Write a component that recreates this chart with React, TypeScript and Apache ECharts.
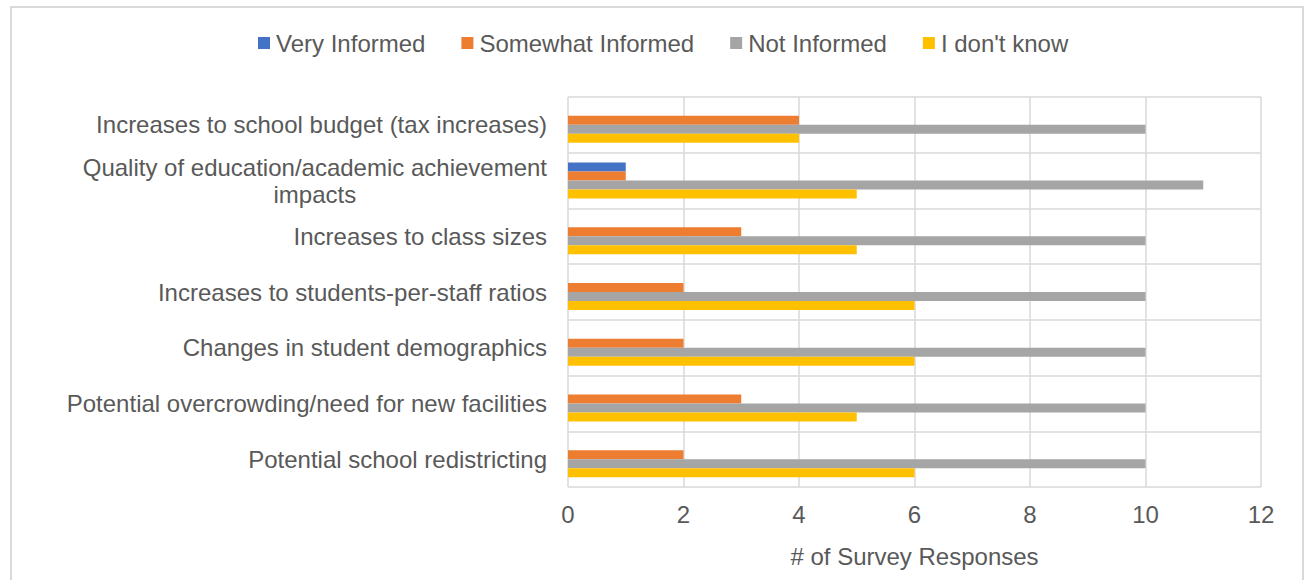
import React, { useEffect, useRef } from "react";
import * as echarts from "echarts";

const categories = [
  "Increases to school budget (tax increases)",
  "Quality of education/academic achievement\nimpacts",
  "Increases to class sizes",
  "Increases to students-per-staff ratios",
  "Changes in student demographics",
  "Potential overcrowding/need for new facilities",
  "Potential school redistricting",
];

const seriesNames = ["Very Informed", "Somewhat Informed", "Not Informed", "I don't know"];
const veryInformed = [0, 1, 0, 0, 0, 0, 0];
const somewhatInformed = [4, 1, 3, 2, 2, 3, 2];
const notInformed = [10, 11, 10, 10, 10, 10, 10];
const dontKnow = [4, 5, 5, 6, 6, 5, 6];
const colors = ["#4472C4", "#ED7D31", "#A5A5A5", "#FFC000"];
const xTicks = { min: 0, max: 12, interval: 2 };
const xAxisName = "# of Survey Responses";

export default function App() {
  const ref = useRef<HTMLDivElement>(null);
  useEffect(() => {
    document.body.style.margin = "0";
    const chart = echarts.init(ref.current!, null, { renderer: "svg" });
    const values = [veryInformed, somewhatInformed, notInformed, dontKnow];
    const font = "Liberation Sans, Arial, sans-serif";
    chart.setOption({
      animation: false,
      color: colors,
      textStyle: { fontFamily: font },
      graphic: [
        {
          type: "rect",
          shape: { x: 11, y: 7, width: 1292, height: 600 },
          style: { fill: "#fff", stroke: "#d9d9d9", lineWidth: 2 },
          z: -10,
        },
      ],
      legend: {
        data: seriesNames,
        left: 258,
        top: 31,
        padding: 0,
        itemWidth: 12,
        itemHeight: 12,
        itemGap: 36,
        icon: "rect",
        textStyle: { fontSize: 24, color: "#595959", fontFamily: font, padding: [0, 0, 0, 1] },
      },
      grid: { left: 568, right: 45, top: 97, bottom: 93, containLabel: false },
      xAxis: {
        type: "value",
        min: xTicks.min,
        max: xTicks.max,
        interval: xTicks.interval,
        axisLine: { show: false },
        axisTick: { show: false },
        splitLine: { show: true, lineStyle: { color: "#d9d9d9", width: 1.5 } },
        axisLabel: { fontSize: 24, color: "#595959", margin: 15, fontFamily: font },
        name: xAxisName,
        nameLocation: "middle",
        nameGap: 57,
        nameTextStyle: { fontSize: 24, color: "#595959", fontFamily: font },
      },
      yAxis: {
        type: "category",
        data: categories,
        inverse: true,
        axisLine: { show: false },
        axisTick: { show: false },
        splitLine: { show: true, lineStyle: { color: "#d9d9d9", width: 1.5 } },
        axisLabel: {
          margin: 21,
          fontSize: 24,
          color: "#595959",
          fontFamily: font,
          formatter: (v: string) =>
            v
              .split("\n")
              .map((s) => `{c|${s}}`)
              .join("\n"),
          rich: {
            c: { align: "center", fontSize: 24, color: "#595959", fontFamily: font, lineHeight: 27 },
          },
        },
      },
      series: seriesNames.map((name, i) => ({
        name,
        type: "bar",
        data: values[i],
        barWidth: 9,
        barGap: "0%",
        itemStyle: { color: colors[i] },
      })),
    });
    return () => chart.dispose();
  }, []);
  return <div ref={ref} style={{ width: 1306, height: 580 }} />;
}
